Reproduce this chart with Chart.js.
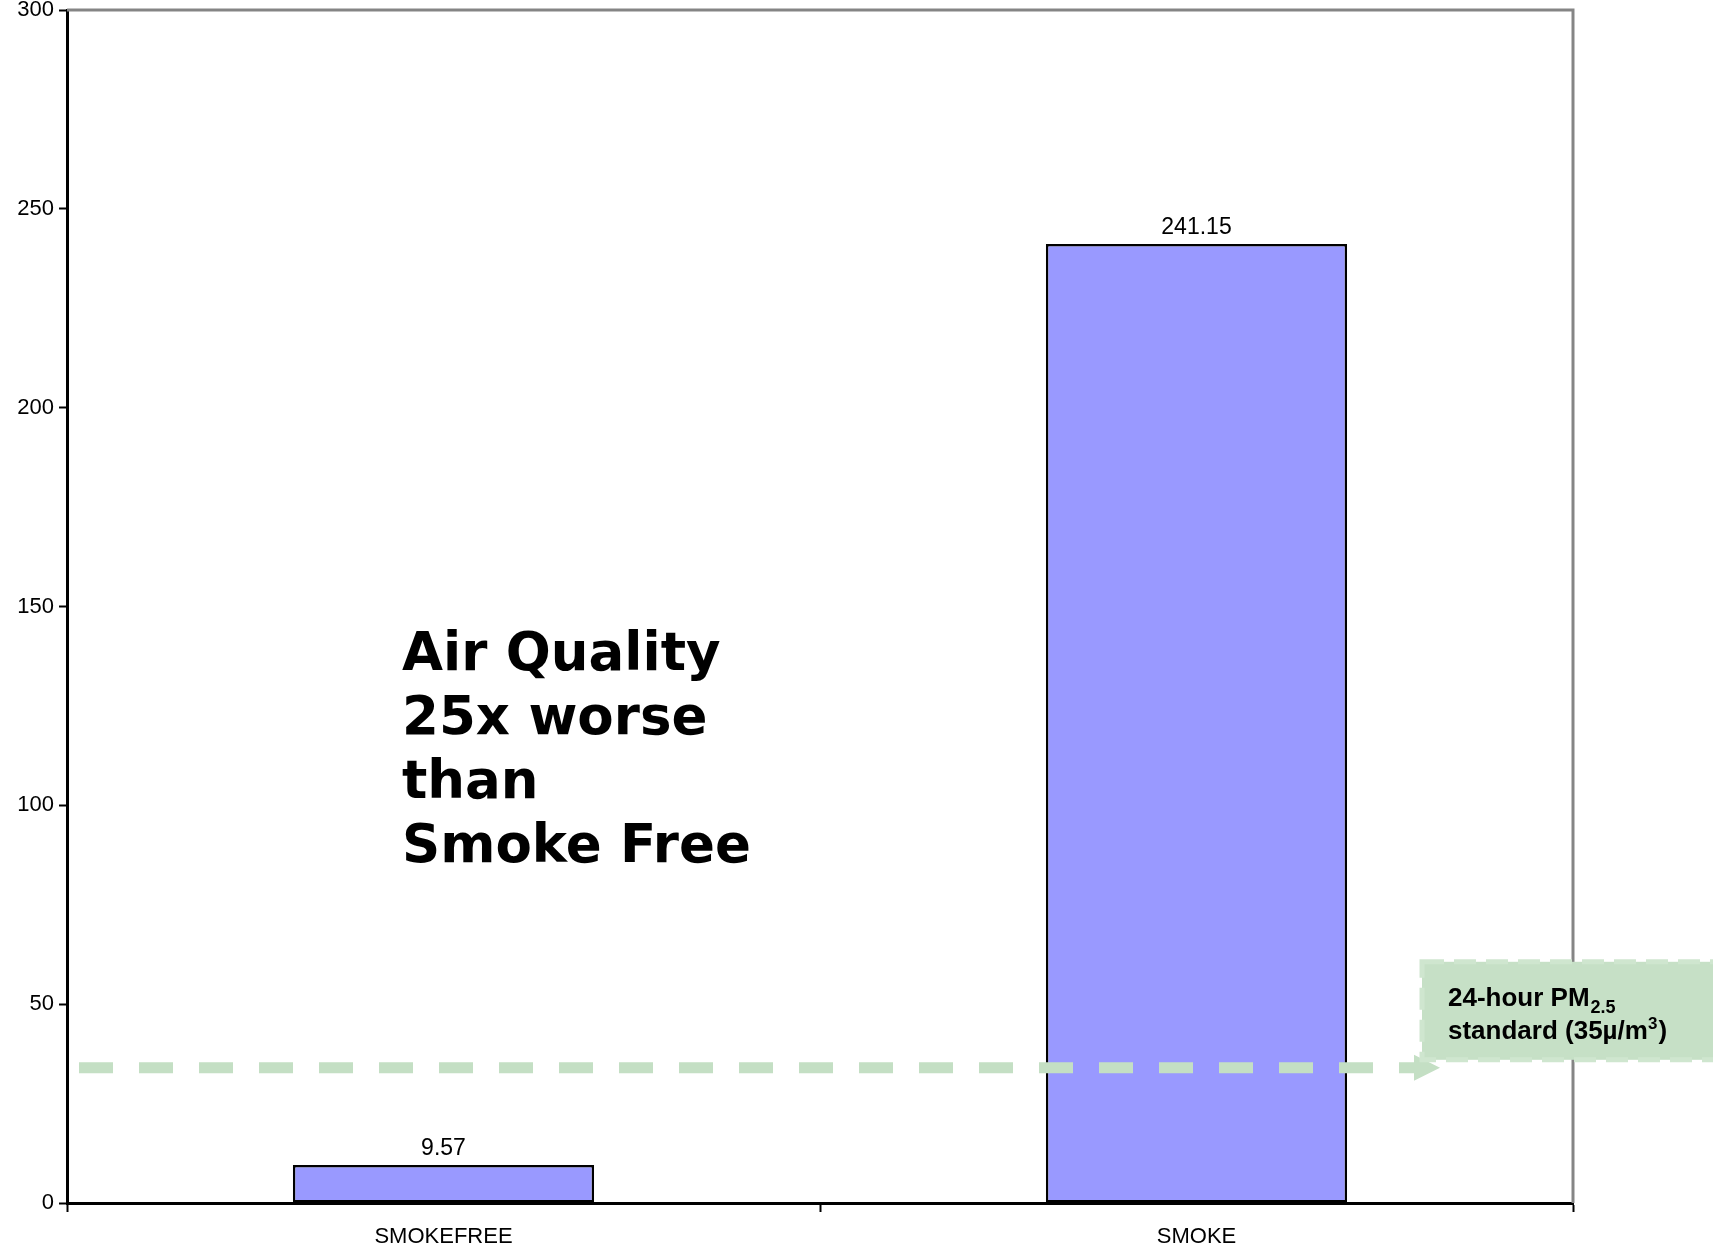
<!DOCTYPE html>
<html lang="en">

<head>
  <meta charset="UTF-8">
  <title>Air Quality PM2.5</title>
  <script src="https://cdn.jsdelivr.net/npm/chart.js@4.4.0/dist/chart.umd.min.js"></script>
  <style>
    body {
      margin: 0;
      background: #fff;
    }
    .plot-container {
      width: 1713px;
      height: 1252px;
      position: relative;
    }
  </style>
</head>

<body>
  <div class="plot-container">
    <canvas id="plot"></canvas>
  </div>

  <script>
    const categories = ['SMOKEFREE', 'SMOKE'];
    const pmValues = [9.57, 241.15];
    const valueLabels = ['9.57', '241.15'];
    const yMin = 0;
    const yMax = 300;
    const yStep = 50;
    const standardValue = 34;
    const noteLines = ['Air Quality', '25x worse', 'than', 'Smoke Free'];

    const green = '#c4dfc4';

    // value labels above the bars
    const barLabels = {
      id: 'barLabels',
      afterDatasetsDraw(chart) {
        const ctx = chart.ctx;
        const meta = chart.getDatasetMeta(0);
        ctx.save();
        ctx.font = '23px "Liberation Sans", Arial, sans-serif';
        ctx.fillStyle = '#000';
        ctx.textAlign = 'center';
        ctx.textBaseline = 'bottom';
        meta.data.forEach((bar, i) => {
          ctx.fillText(valueLabels[i], bar.x, bar.y - 5);
        });
        ctx.restore();
      }
    };

    // gray frame on top/right, big note, PM2.5 standard line and callout
    const extras = {
      id: 'extras',
      beforeDatasetsDraw(chart) {
        const { ctx, chartArea: a } = chart;
        ctx.save();
        ctx.strokeStyle = '#858585';
        ctx.lineWidth = 3;
        ctx.beginPath();
        ctx.moveTo(a.left, a.top);
        ctx.lineTo(a.right, a.top);
        ctx.lineTo(a.right, a.bottom);
        ctx.stroke();
        ctx.restore();
      },
      afterDraw(chart) {
        const { ctx, chartArea: a, scales } = chart;
        const y = scales.y;

        // big note
        ctx.save();
        ctx.font = 'bold 53px "DejaVu Sans", Verdana, sans-serif';
        ctx.fillStyle = '#000';
        ctx.textBaseline = 'alphabetic';
        const baseY = y.getPixelForValue(134);
        noteLines.forEach((t, i) => {
          ctx.fillText(t, a.left + 335, baseY + i * 64);
        });
        ctx.restore();

        // standard line
        const ly = y.getPixelForValue(standardValue);
        const tipX = 1440;
        ctx.save();
        ctx.strokeStyle = green;
        ctx.lineWidth = 11;
        ctx.setLineDash([34, 26]);
        ctx.beginPath();
        ctx.moveTo(a.left + 12, ly);
        ctx.lineTo(tipX - 26, ly);
        ctx.stroke();
        ctx.setLineDash([]);
        ctx.fillStyle = green;
        ctx.beginPath();
        ctx.moveTo(tipX - 26, ly - 13);
        ctx.lineTo(tipX, ly);
        ctx.lineTo(tipX - 26, ly + 13);
        ctx.closePath();
        ctx.fill();

        // callout box
        const bx = 1422, by = ly - 106, bw = 310, bh = 98;
        ctx.fillStyle = '#c6e0c6';
        ctx.fillRect(bx, by, bw, bh);
        ctx.strokeStyle = '#cfe6cf';
        ctx.lineWidth = 5;
        ctx.setLineDash([22, 10]);
        ctx.strokeRect(bx, by, bw, bh);
        ctx.setLineDash([]);

        ctx.fillStyle = '#000';
        ctx.textBaseline = 'alphabetic';
        const tx = bx + 26;
        ctx.font = 'bold 26px "Liberation Sans", Arial, sans-serif';
        ctx.fillText('24-hour PM', tx, by + 44);
        let w = ctx.measureText('24-hour PM').width;
        ctx.font = 'bold 18px "Liberation Sans", Arial, sans-serif';
        ctx.fillText('2.5', tx + w + 1, by + 51);

        ctx.font = 'bold 26px "Liberation Sans", Arial, sans-serif';
        const part1 = 'standard (35\u00b5/m';
        ctx.fillText(part1, tx, by + 77);
        w = ctx.measureText(part1).width;
        ctx.font = 'bold 17px "Liberation Sans", Arial, sans-serif';
        ctx.fillText('3', tx + w, by + 67);
        const w2 = ctx.measureText('3').width;
        ctx.font = 'bold 26px "Liberation Sans", Arial, sans-serif';
        ctx.fillText(')', tx + w + w2 + 1, by + 77);
        ctx.restore();
      }
    };

    const data = {
      labels: categories,
      datasets: [{
        label: 'PM2.5',
        data: pmValues,
        backgroundColor: '#9999ff',
        borderColor: '#000',
        borderWidth: 2.5,
        borderSkipped: false,
        barPercentage: 0.8,
        categoryPercentage: 0.5
      }]
    };

    const config = {
      type: 'bar',
      data,
      options: {
        responsive: true,
        maintainAspectRatio: false,
        animation: false,
        layout: {
          padding: { top: 1, right: 140, left: 0, bottom: 0 }
        },
        plugins: {
          legend: { display: false },
          tooltip: { enabled: false }
        },
        scales: {
          x: {
            offset: true,
            grid: {
              offset: true,
              drawOnChartArea: false,
              drawTicks: true,
              tickLength: 9,
              tickWidth: 2,
              tickColor: '#000'
            },
            border: { color: '#000', width: 3 },
            ticks: {
              color: '#000',
              padding: 12,
              font: { family: '"Liberation Sans", Arial, sans-serif', size: 22 }
            },
            afterFit(scale) { scale.height = 49; }
          },
          y: {
            min: yMin,
            max: yMax,
            grid: {
              drawOnChartArea: false,
              drawTicks: true,
              tickLength: 8,
              tickWidth: 2,
              tickColor: '#000'
            },
            border: { color: '#000', width: 3 },
            ticks: {
              stepSize: yStep,
              color: '#000',
              padding: 5,
              font: { family: '"Liberation Sans", Arial, sans-serif', size: 22 }
            },
            afterFit(scale) {
              scale.width = 67;
              scale.paddingTop = 10;
              scale.paddingBottom = 0;
            }
          }
        }
      },
      plugins: [barLabels, extras]
    };

    const plot = new Chart(document.getElementById('plot'), config);
  </script>
</body>

</html>
